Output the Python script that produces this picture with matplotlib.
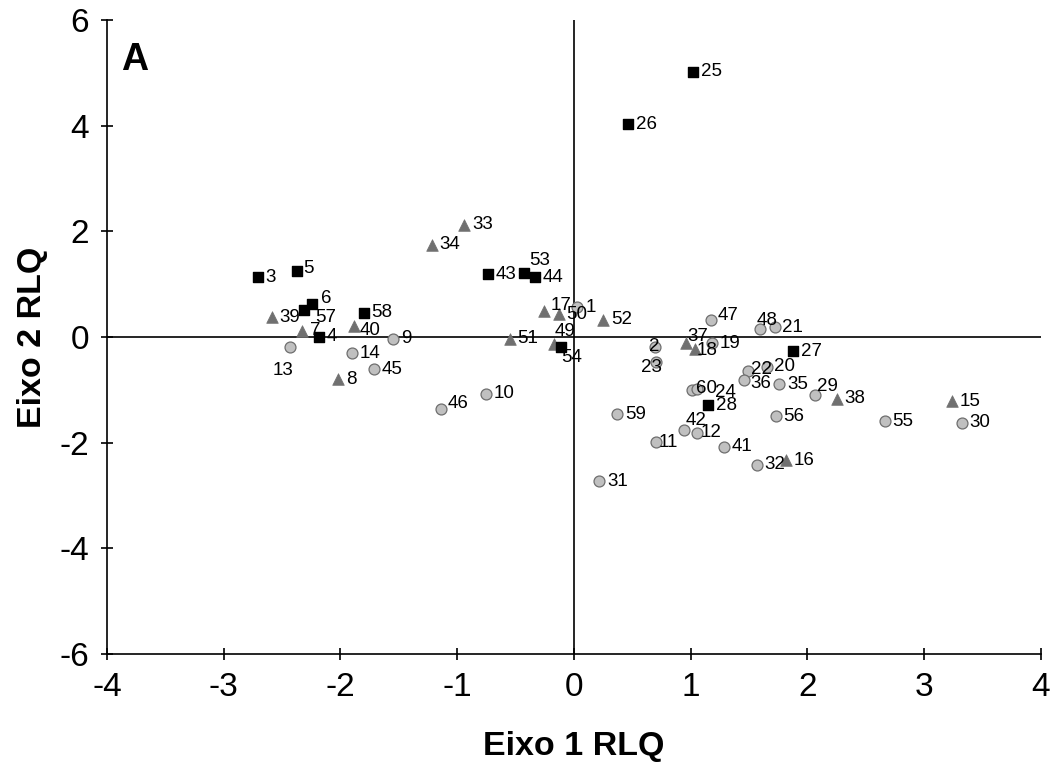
import numpy as np
import matplotlib.pyplot as plt

plt.rcParams["font.family"] = ["Liberation Sans", "DejaVu Sans"]
plt.rcParams["axes.unicode_minus"] = False

# site scores on the first two RLQ axes, one array per group
sq_ids = [3, 5, 6, 57, 4, 58, 43, 53, 44, 54, 25, 26, 27, 28]
sq_x = [-2.71, -2.375, -2.24, -2.31, -2.18, -1.80, -0.74, -0.43, -0.33, -0.11,
        1.02, 0.465, 1.88, 1.15]
sq_y = [1.13, 1.24, 0.62, 0.52, 0.00, 0.46, 1.19, 1.22, 1.13, -0.18,
        5.02, 4.03, -0.27, -1.29]

tri_ids = [33, 34, 39, 7, 40, 8, 51, 17, 50, 49, 52, 37, 18, 38, 15, 16]
tri_x = [-0.94, -1.22, -2.59, -2.33, -1.88, -2.02, -0.55, -0.26, -0.13, -0.17,
         0.25, 0.957, 1.04, 2.25, 3.235, 1.82]
tri_y = [2.12, 1.75, 0.37, 0.12, 0.21, -0.80, -0.03, 0.50, 0.43, -0.13,
         0.33, -0.12, -0.23, -1.17, -1.22, -2.33]

circ_ids = [13, 14, 45, 9, 10, 46, 1, 59, 2, 23, 47, 48, 21, 19, 22, 20, 36, 35,
            60, 24, 42, 12, 11, 41, 32, 31, 56, 29, 55, 30]
circ_x = [-2.43, -1.90, -1.71, -1.55, -0.754, -1.14, 0.03, 0.37, 0.69, 0.70,
          1.17, 1.59, 1.72, 1.18, 1.49, 1.65, 1.46, 1.76,
          1.01, 1.05, 0.94, 1.05, 0.70, 1.285, 1.565, 0.217, 1.73, 2.06, 2.66, 3.32]
circ_y = [-0.18, -0.31, -0.61, -0.03, -1.07, -1.37, 0.56, -1.46, -0.18, -0.47,
          0.33, 0.15, 0.18, -0.12, -0.64, -0.56, -0.81, -0.89,
          -1.00, -0.99, -1.76, -1.81, -1.99, -2.08, -2.42, -2.73, -1.50, -1.10, -1.59, -1.62]

# label offsets in points (left edge of text, vertical centre); default is to the right
DEFAULT_OFF = (5.5, 0)
label_off = {
    13: (-5, -17, "center"), 53: (4, 9, "left"), 49: (0, 9, "left"),
    54: (0, -8, "left"), 57: (8, -6, "left"), 6: (6, 4, "left"),
    17: (5, 4, "left"), 37: (1, 5, "left"), 18: (1, -1, "left"),
    2: (-4, 0, "left"), 23: (-3, -4, "center"), 48: (-2, 6, "left"),
    22: (2, 1, "left"), 36: (4, -3, "left"), 42: (1, 7, "left"),
    12: (3, 0, "left"), 11: (2, 0, "left"), 29: (2, 6, "left"),
    46: (5, 4, "left"), 47: (5, 3, "left"), 24: (13, -2, "left"),
    60: (3, 1, "left"), 5: (5, 2, "left"), 40: (4, -3, "left"),
}

fig = plt.figure(figsize=(10.56, 7.68), dpi=100)
ax = fig.add_axes([0.1013, 0.1484, 0.8845, 0.8256])

ax.axhline(0, color="black", lw=1.2, zorder=1)
ax.axvline(0, color="black", lw=1.2, zorder=1)

ax.scatter(circ_x, circ_y, marker="o", s=62, facecolor="#c0c0c0",
           edgecolor="#6e6e6e", linewidths=0.9, zorder=3)
ax.scatter(tri_x, tri_y, marker="^", s=70, facecolor="#707070",
           edgecolor="#707070", linewidths=0.5, zorder=3)
ax.scatter(sq_x, sq_y, marker="s", s=62, facecolor="black",
           edgecolor="black", zorder=4)

for ids, xs, ys in [(circ_ids, circ_x, circ_y), (tri_ids, tri_x, tri_y),
                    (sq_ids, sq_x, sq_y)]:
    for i, x, y in zip(ids, xs, ys):
        dx, dy, ha = label_off.get(i, (*DEFAULT_OFF, "left"))
        ax.annotate(str(i), (x, y), xytext=(dx, dy), textcoords="offset points",
                    ha=ha, va="center", fontsize=13.5, zorder=5)

ax.set_xlim(-4, 4)
ax.set_ylim(-6, 6)
ax.set_xticks(np.arange(-4, 5, 1))
ax.set_yticks(np.arange(-6, 7, 2))
ax.spines["top"].set_visible(False)
ax.spines["right"].set_visible(False)
for s in ("left", "bottom"):
    ax.spines[s].set_linewidth(1.2)
ax.tick_params(direction="inout", length=8, width=1.2, labelsize=24, pad=9)

ax.set_xlabel("Eixo 1 RLQ", fontsize=24.5, fontweight="bold", labelpad=20)
ax.set_ylabel("Eixo 2 RLQ", fontsize=24.5, fontweight="bold", labelpad=8)
ax.text(0.015, 0.965, "A", transform=ax.transAxes, fontsize=27,
        fontweight="bold", va="top", ha="left")

fig.savefig("out.png", dpi=100)
